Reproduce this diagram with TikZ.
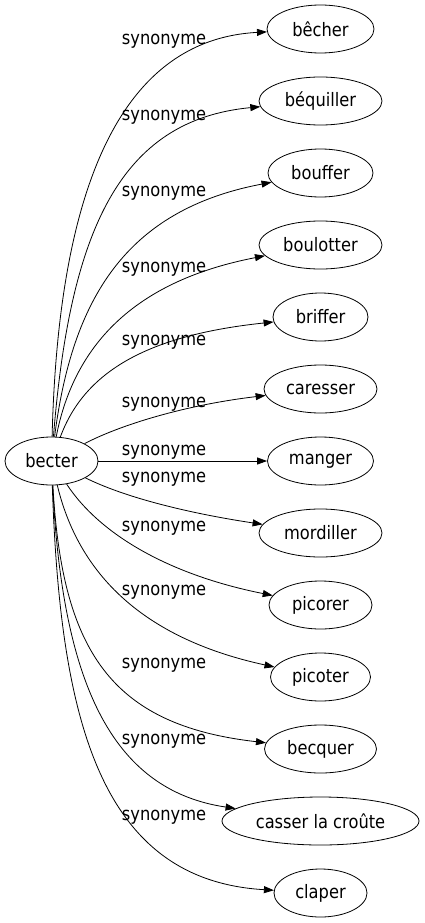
\documentclass[tikz,border=0pt]{standalone}
\usepackage{fontspec}
\setmainfont{DejaVu Sans}[FakeStretch=0.88]
\usepackage{tikz}
\usetikzlibrary{arrows.meta}
\usetikzlibrary{shapes.geometric}
\tikzset{word/.style = {draw, ellipse, inner sep = 0, minimum height = 48pt}}
\tikzset{lbl/.style = {inner sep = 0}}
\tikzset{syn/.style = {-{Triangle[length = 10pt, width = 7pt]}}}

\begin{document}
\begin{tikzpicture}[x = 1pt, y = -1pt, line width = 0.8pt, font = \fontsize{18.5}{22}\selectfont]
    \useasboundingbox (0, 0) rectangle (424, 923);

    \node [word, minimum width = 93pt] (becter) at (51.5, 461) {becter};

    \node [word, minimum width = 107pt] (becher) at (320.5, 29) {bêcher};
    \node [word, minimum width = 123pt] (bequiller) at (320.5, 101) {béquiller};
    \node [word, minimum width = 105pt] (bouffer) at (320.5, 173) {bouffer};
    \node [word, minimum width = 123pt] (boulotter) at (320.5, 245) {boulotter};
    \node [word, minimum width = 95pt] (briffer) at (320.5, 317) {briffer};
    \node [word, minimum width = 113pt] (caresser) at (320.5, 389) {caresser};
    \node [word, minimum width = 106pt] (manger) at (320.5, 461) {manger};
    \node [word, minimum width = 123pt] (mordiller) at (320.5, 533) {mordiller};
    \node [word, minimum width = 103pt] (picorer) at (320.5, 605) {picorer};
    \node [word, minimum width = 100pt] (picoter) at (320.5, 677) {picoter};
    \node [word, minimum width = 112pt] (becquer) at (320.5, 749) {becquer};
    \node [word, minimum width = 197pt] (casser) at (320.5, 821) {casser la croûte};
    \node [word, minimum width = 93pt] (claper) at (320.5, 893) {claper};

    % edge labels
    \node [lbl] (l-becher) at (164, 41) {synonyme};
    \node [lbl] (l-bequiller) at (164, 117) {synonyme};
    \node [lbl] (l-bouffer) at (164, 193) {synonyme};
    \node [lbl] (l-boulotter) at (164, 269) {synonyme};
    \node [lbl] (l-briffer) at (164, 342) {synonyme};
    \node [lbl] (l-caresser) at (164, 404) {synonyme};
    \node [lbl] (l-manger) at (164, 452) {synonyme};
    \node [lbl] (l-mordiller) at (164, 479) {synonyme};
    \node [lbl] (l-picorer) at (164, 528) {synonyme};
    \node [lbl] (l-picoter) at (164, 592) {synonyme};
    \node [lbl] (l-becquer) at (164, 665) {synonyme};
    \node [lbl] (l-casser) at (164, 741) {synonyme};
    \node [lbl] (l-claper) at (164, 817) {synonyme};

    \draw [syn] (becter) .. controls (58, 200) and (115, 40) .. (becher);
    \draw [syn] (becter) .. controls (70, 230) and (120, 120) .. (bequiller);
    \draw [syn] (becter) .. controls (72, 300) and (125, 210) .. (bouffer);
    \draw [syn] (becter) .. controls (75, 340) and (140, 280) .. (boulotter);
    \draw [syn] (becter) .. controls (85, 370) and (150, 335) .. (briffer);
    \draw [syn] (becter) .. controls (120, 425) and (185, 405) .. (caresser);
    \draw [syn] (becter) -- (manger);
    \draw [syn] (becter) .. controls (130, 500) and (200, 515) .. (mordiller);
    \draw [syn] (becter) .. controls (100, 535) and (170, 575) .. (picorer);
    \draw [syn] (becter) .. controls (80, 580) and (150, 640) .. (picoter);
    \draw [syn] (becter) .. controls (62, 650) and (110, 725) .. (becquer);
    \draw [syn] (becter) .. controls (62, 680) and (110, 790) .. (casser);
    \draw [syn] (becter) .. controls (60, 720) and (100, 880) .. (claper);
\end{tikzpicture}
\end{document}
